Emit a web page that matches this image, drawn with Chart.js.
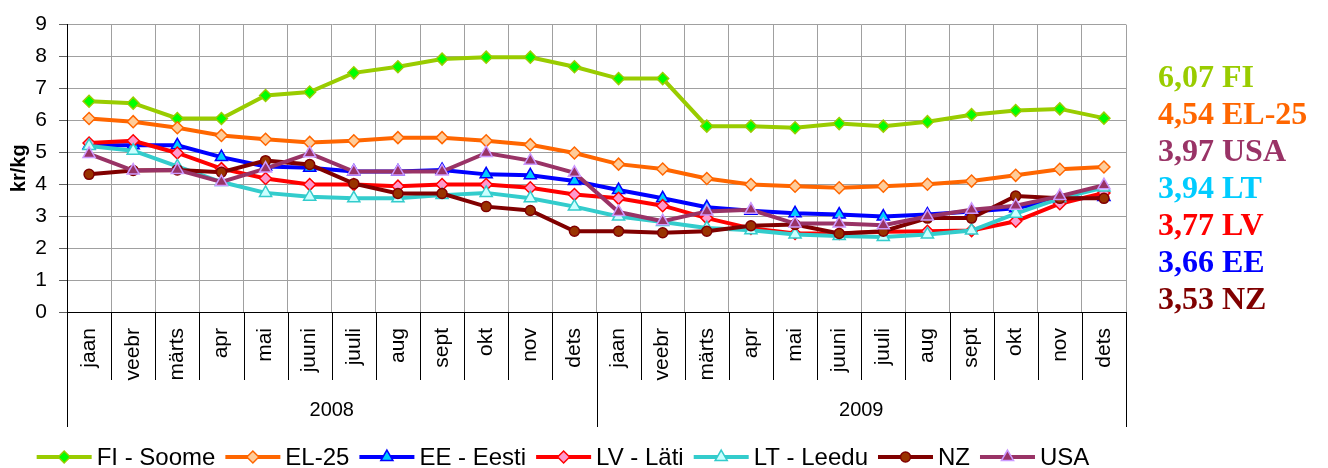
<!DOCTYPE html>
<html lang="et">
<head>
<meta charset="UTF-8">
<title>kr/kg</title>
<script src="https://cdn.jsdelivr.net/npm/chart.js"></script>
<style>
  html, body { margin: 0; padding: 0; background: #fff; }
</style>
</head>
<body>
<canvas id="chart" width="1328" height="468"></canvas>
<script>
// kuud ja aastad
const months = ['jaan', 'veebr', 'märts', 'apr', 'mai', 'juuni', 'juuli', 'aug', 'sept', 'okt', 'nov', 'dets'];
const years = ['2008', '2009'];
const yTicks = [0, 1, 2, 3, 4, 5, 6, 7, 8, 9];

// hinnad kr/kg, jaan 2008 - dets 2009
const fiSoome = [6.60, 6.54, 6.06, 6.06, 6.78, 6.89, 7.49, 7.68, 7.92, 7.98, 7.98, 7.68,
                 7.31, 7.31, 5.82, 5.82, 5.77, 5.90, 5.82, 5.96, 6.18, 6.31, 6.36, 6.07];
const el25    = [6.06, 5.96, 5.77, 5.53, 5.41, 5.31, 5.36, 5.46, 5.46, 5.36, 5.24, 4.98,
                 4.63, 4.48, 4.18, 3.99, 3.94, 3.89, 3.94, 4.00, 4.10, 4.28, 4.47, 4.54];
const eeEesti = [5.22, 5.22, 5.22, 4.85, 4.56, 4.52, 4.40, 4.40, 4.45, 4.31, 4.28, 4.10,
                 3.82, 3.56, 3.28, 3.17, 3.09, 3.05, 2.99, 3.05, 3.15, 3.25, 3.53, 3.60];
const lvLati  = [5.29, 5.36, 4.98, 4.49, 4.18, 3.99, 3.99, 3.94, 3.99, 3.99, 3.89, 3.68,
                 3.56, 3.33, 2.94, 2.62, 2.46, 2.46, 2.51, 2.53, 2.55, 2.84, 3.39, 3.73];
const ltLeedu = [5.20, 5.05, 4.56, 4.07, 3.73, 3.61, 3.56, 3.56, 3.66, 3.73, 3.56, 3.30,
                 2.99, 2.82, 2.63, 2.56, 2.43, 2.38, 2.35, 2.43, 2.55, 3.08, 3.56, 3.90];
const nz      = [4.31, 4.43, 4.45, 4.38, 4.74, 4.62, 4.02, 3.71, 3.71, 3.30, 3.18, 2.53,
                 2.53, 2.48, 2.53, 2.70, 2.74, 2.46, 2.53, 2.94, 2.94, 3.63, 3.56, 3.56];
const usa     = [4.95, 4.43, 4.45, 4.07, 4.49, 4.97, 4.40, 4.40, 4.40, 4.98, 4.74, 4.36,
                 3.13, 2.84, 3.15, 3.20, 2.77, 2.77, 2.72, 2.99, 3.20, 3.33, 3.63, 3.97];

// viimase kuu hinnad paremal
const endValues = ['6,07', '4,54', '3,97', '3,94', '3,77', '3,66', '3,53'];
const endNames = ['FI', 'EL-25', 'USA', 'LT', 'LV', 'EE', 'NZ'];
const endColors = ['#99CC00', '#FF6600', '#993366', '#00CCFF', '#FF0000', '#0000FF', '#800000'];

const labels = years.flatMap(() => months);

const series = [
  { label: 'FI - Soome', data: fiSoome, line: '#99CC00', fill: '#00FF00', edge: '#99CC00', style: 'rectRot', r: 6 },
  { label: 'EL-25', data: el25, line: '#FF6600', fill: '#FFCC99', edge: '#FF6600', style: 'rectRot', r: 6 },
  { label: 'EE - Eesti', data: eeEesti, line: '#0000FF', fill: '#00CCFF', edge: '#0000FF', style: 'triangle', r: 7 },
  { label: 'LV - Läti', data: lvLati, line: '#FF0000', fill: '#FF99CC', edge: '#FF0000', style: 'rectRot', r: 6 },
  { label: 'LT - Leedu', data: ltLeedu, line: '#33CCCC', fill: '#CCFFFF', edge: '#33CCCC', style: 'triangle', r: 7 },
  { label: 'NZ', data: nz, line: '#800000', fill: '#993300', edge: '#800000', style: 'circle', r: 5 },
  { label: 'USA', data: usa, line: '#993366', fill: '#993366', edge: '#CC99FF', style: 'triangle', r: 7 }
];

const datasets = series.map((s, i) => ({
  label: s.label,
  data: s.data,
  borderColor: s.line,
  borderWidth: 4,
  backgroundColor: s.fill,
  pointStyle: s.style,
  pointRadius: s.r,
  pointBackgroundColor: s.fill,
  pointBorderColor: s.edge,
  pointBorderWidth: 1.5,
  tension: 0,
  order: series.length - 1 - i
}));

const SANS = '"Liberation Sans", Arial, sans-serif';

// aastate rida, legend ja lõpuväärtused
const decor = {
  id: 'decor',
  afterDraw(chart) {
    const { ctx, chartArea, scales: { x } } = chart;
    const step = x.getPixelForValue(1) - x.getPixelForValue(0);
    const edge = i => x.getPixelForValue(i) - step / 2;
    const base = chartArea.bottom;
    ctx.save();
    ctx.strokeStyle = '#000';
    ctx.lineWidth = 1;
    for (let i = 0; i <= labels.length; i++) {
      const px = Math.round(edge(i)) + 0.5;
      const end = i % months.length === 0 ? base + 115 : base + 68;
      ctx.beginPath();
      ctx.moveTo(px, base);
      ctx.lineTo(px, end);
      ctx.stroke();
    }
    ctx.fillStyle = '#000';
    ctx.font = '20px ' + SANS;
    ctx.textAlign = 'center';
    ctx.textBaseline = 'middle';
    years.forEach((yr, k) => {
      const mid = (edge(k * months.length) + edge((k + 1) * months.length)) / 2;
      ctx.fillText(yr, mid, base + 98);
    });

    // legend
    ctx.font = '24px ' + SANS;
    ctx.textAlign = 'left';
    const lineW = 55, gapText = 5, gapItem = 10;
    const widths = chart.data.datasets.map(d => lineW + gapText + ctx.measureText(d.label).width);
    const total = widths.reduce((a, b) => a + b, 0) + gapItem * (widths.length - 1);
    let lx = chartArea.right / 2 - total / 2;
    const ly = 457;
    chart.data.datasets.forEach((d, i) => {
      ctx.strokeStyle = d.borderColor;
      ctx.lineWidth = 4;
      ctx.beginPath();
      ctx.moveTo(lx, ly);
      ctx.lineTo(lx + lineW, ly);
      ctx.stroke();
      ctx.fillStyle = d.pointBackgroundColor;
      ctx.strokeStyle = d.pointBorderColor;
      ctx.lineWidth = 1.5;
      Chart.helpers.drawPoint(ctx, { pointStyle: d.pointStyle, radius: d.pointRadius, rotation: 0, borderWidth: 1.5 }, lx + lineW / 2, ly);
      ctx.fillStyle = '#000';
      ctx.fillText(d.label, lx + lineW + gapText, ly + 1);
      lx += widths[i] + gapItem;
    });

    // lõpuväärtused
    ctx.font = 'bold 32px "Liberation Serif", "Times New Roman", serif';
    ctx.textBaseline = 'alphabetic';
    endValues.forEach((v, i) => {
      ctx.fillStyle = endColors[i];
      ctx.fillText(v + ' ' + endNames[i], 1158, 87 + i * 37);
    });
    ctx.restore();
  }
};

new Chart(document.getElementById('chart'), {
  type: 'line',
  data: { labels: labels, datasets: datasets },
  options: {
    responsive: false,
    animation: false,
    layout: { padding: { top: 20, right: 202, bottom: 41, left: 0 } },
    plugins: {
      legend: { display: false },
      tooltip: { enabled: false }
    },
    scales: {
      x: {
        type: 'category',
        offset: true,
        grid: { offset: true, color: '#A0A0A0', drawTicks: false },
        border: { color: '#000', width: 1 },
        ticks: {
          autoSkip: false,
          minRotation: 90,
          maxRotation: 90,
          padding: 16,
          color: '#000',
          font: { family: SANS, size: 21 }
        },
        afterFit: s => { s.height = 115; }
      },
      y: {
        min: 0,
        max: 9,
        afterBuildTicks: s => { s.ticks = yTicks.map(v => ({ value: v })); },
        grid: { color: '#A0A0A0', tickColor: '#606060', tickLength: 8 },
        border: { color: '#000', width: 1 },
        ticks: { color: '#000', padding: 12, font: { family: SANS, size: 21 } },
        title: {
          display: true,
          text: 'kr/kg',
          color: '#000',
          padding: { top: 7, bottom: 0 },
          font: { family: SANS, size: 20, weight: 'bold' }
        },
        afterFit: s => { s.width = 67; }
      }
    }
  },
  plugins: [decor]
});
</script>
</body>
</html>
